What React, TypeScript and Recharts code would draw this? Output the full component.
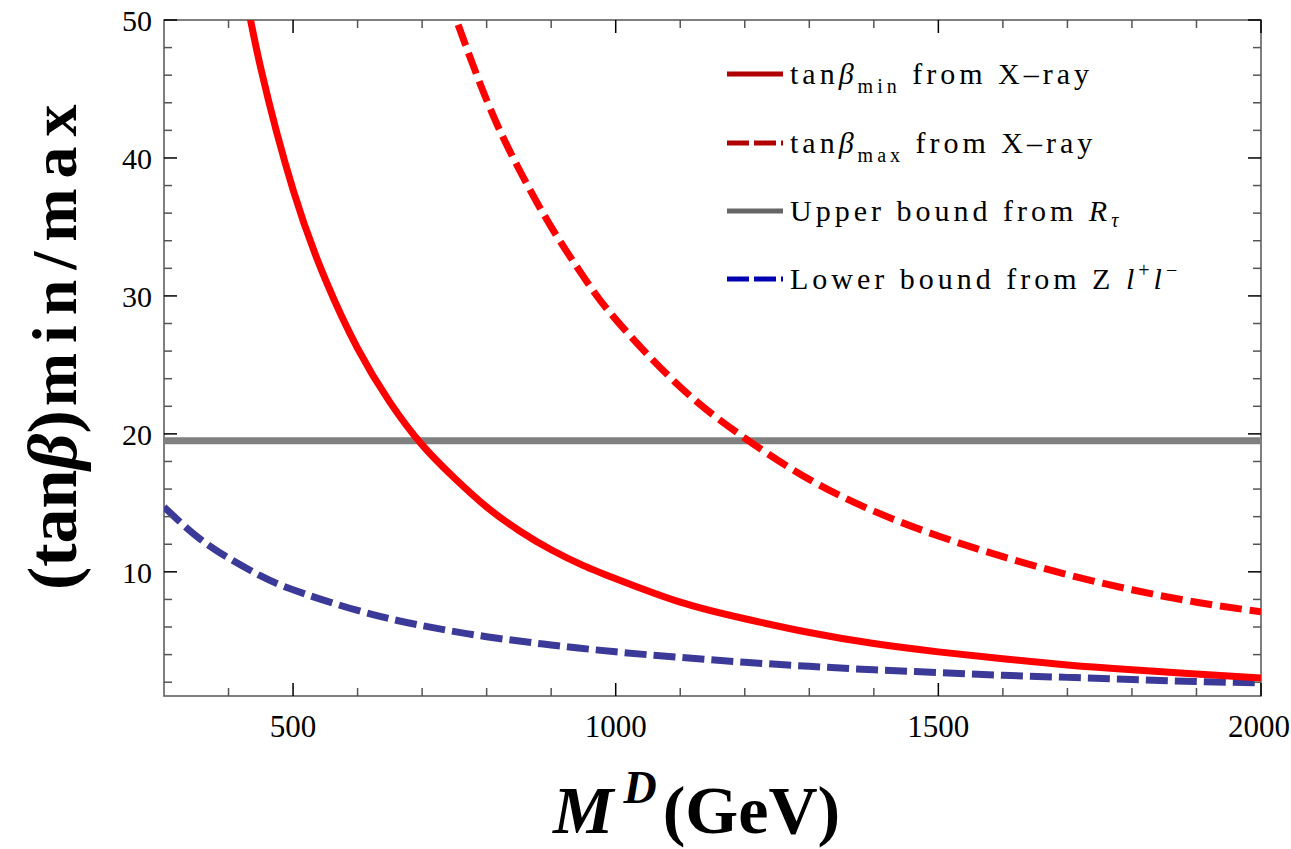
import React from "react";
import { LineChart, Line, XAxis, YAxis, ReferenceArea } from "recharts";

// tan(beta)_min from X-ray (solid red)
const tanMinData = [
  { x: 420, y: 53.5 }, { x: 450, y: 46.5 }, { x: 500, y: 37.7 }, { x: 550, y: 31.2 },
  { x: 600, y: 26.2 }, { x: 650, y: 22.3 }, { x: 700, y: 19.2 }, { x: 750, y: 16.8 },
  { x: 800, y: 14.7 }, { x: 850, y: 13.0 }, { x: 900, y: 11.6 }, { x: 950, y: 10.45 },
  { x: 1000, y: 9.5 }, { x: 1100, y: 7.8 }, { x: 1200, y: 6.6 }, { x: 1300, y: 5.6 },
  { x: 1400, y: 4.8 }, { x: 1500, y: 4.2 }, { x: 1600, y: 3.7 }, { x: 1700, y: 3.25 },
  { x: 1800, y: 2.9 }, { x: 1900, y: 2.6 }, { x: 2000, y: 2.3 },
];

// tan(beta)_max from X-ray (dashed red)
const tanMaxData = [
  { x: 740, y: 51.7 }, { x: 800, y: 44.2 }, { x: 850, y: 39.2 }, { x: 900, y: 35.0 },
  { x: 950, y: 31.4 }, { x: 1000, y: 28.3 }, { x: 1100, y: 23.4 }, { x: 1200, y: 19.7 },
  { x: 1300, y: 16.7 }, { x: 1400, y: 14.4 }, { x: 1500, y: 12.6 }, { x: 1600, y: 11.1 },
  { x: 1700, y: 9.8 }, { x: 1800, y: 8.7 }, { x: 1900, y: 7.8 }, { x: 2000, y: 7.1 },
];

// upper bound from R_tau (gray)
const upperData = [{ x: 300, y: 19.5 }, { x: 2000, y: 19.5 }];

// lower bound from Z l+ l- (dashed blue)
const lowerData = [
  { x: 300, y: 14.7 }, { x: 350, y: 12.6 }, { x: 400, y: 11.0 }, { x: 450, y: 9.7 },
  { x: 500, y: 8.7 }, { x: 600, y: 7.2 }, { x: 700, y: 6.1 }, { x: 800, y: 5.3 },
  { x: 900, y: 4.7 }, { x: 1000, y: 4.2 }, { x: 1100, y: 3.8 }, { x: 1200, y: 3.45 },
  { x: 1300, y: 3.15 }, { x: 1400, y: 2.9 }, { x: 1500, y: 2.7 }, { x: 1600, y: 2.5 },
  { x: 1700, y: 2.35 }, { x: 1800, y: 2.2 }, { x: 1900, y: 2.05 }, { x: 2000, y: 1.95 },
];

const xTicks = [400, 500, 600, 700, 800, 900, 1000, 1100, 1200, 1300, 1400, 1500, 1600, 1700, 1800, 1900, 2000];
const xLabels = [500, 1000, 1500, 2000];
const yTicks = [2, 4, 6, 8, 10, 12, 14, 16, 18, 20, 22, 24, 26, 28, 30, 32, 34, 36, 38, 40, 42, 44, 46, 48, 50];
const yLabels = [10, 20, 30, 40, 50];

const W = 1291;
const H = 849;
const PLOT_LEFT = 164;
const PLOT_TOP = 20;
const PLOT_W = 1097;
const PLOT_H = 676;
const FONT = "'Liberation Serif', 'Times New Roman', serif";

const XTick = (props: any) => {
  const { x, y, payload } = props;
  const major = xLabels.includes(payload.value);
  const len = major ? 13 : 8;
  const color = major ? "#000" : "#555";
  // the last label sits on the page edge, pull it in a touch
  const dx = payload.value === 2000 ? -2 : 0;
  return (
    <g>
      <line x1={x} y1={y} x2={x} y2={y - len} stroke={color} strokeWidth={1.5} />
      <line x1={x} y1={y - PLOT_H} x2={x} y2={y - PLOT_H + len} stroke={color} strokeWidth={1.5} />
      {major && (
        <text x={x + dx} y={y + 41} textAnchor="middle" fontFamily={FONT} fontSize={31} fill="#000">
          {payload.value}
        </text>
      )}
    </g>
  );
};

const YTick = (props: any) => {
  const { x, y, payload } = props;
  const major = yLabels.includes(payload.value);
  const len = major ? 13 : 8;
  const color = major ? "#000" : "#555";
  return (
    <g>
      <line x1={x} y1={y} x2={x + len} y2={y} stroke={color} strokeWidth={1.5} />
      <line x1={x + PLOT_W} y1={y} x2={x + PLOT_W - len} y2={y} stroke={color} strokeWidth={1.5} />
      {major && (
        <text x={x - 12} y={y + 11} textAnchor="end" fontFamily={FONT} fontSize={30} fill="#000">
          {payload.value}
        </text>
      )}
    </g>
  );
};

const legendRows = [
  { y: 74, color: "#B00000", dash: undefined },
  { y: 143, color: "#B00000", dash: "22 5" },
  { y: 211, color: "#666666", dash: undefined },
  { y: 279, color: "#0000B0", dash: "22 5" },
];

const Overlay = () => (
  <svg
    width={W}
    height={H}
    style={{ position: "absolute", left: 0, top: 0, pointerEvents: "none" }}
  >
    {legendRows.map((r, i) => (
      <line key={i} x1={727} x2={783} y1={r.y} y2={r.y} stroke={r.color} strokeWidth={5} strokeDasharray={r.dash} />
    ))}
    <g fontFamily={FONT} fontSize={30} fill="#000" letterSpacing={4}>
      <text x={790} y={84}>
        tan<tspan fontStyle="italic">β</tspan>
        <tspan fontSize={20} dy={9}>min</tspan>
        <tspan dy={-9}> from X–ray</tspan>
      </text>
      <text x={790} y={153}>
        tan<tspan fontStyle="italic">β</tspan>
        <tspan fontSize={20} dy={9}>max</tspan>
        <tspan dy={-9}> from X–ray</tspan>
      </text>
      <text x={790} y={221}>
        Upper bound from <tspan fontStyle="italic">R</tspan>
        <tspan fontStyle="italic" fontSize={20} dy={6}>τ</tspan>
      </text>
      <text x={790} y={289}>
        Lower bound from Z <tspan fontStyle="italic">l</tspan>
        <tspan fontSize={20} dy={-12}>+</tspan>
        <tspan fontStyle="italic" dy={12}>l</tspan>
        <tspan fontSize={20} dy={-12}>−</tspan>
      </text>
    </g>
    <text x={553} y={833} fontFamily={FONT} fontWeight="bold" fontSize={68} fill="#000">
      <tspan fontStyle="italic">M</tspan>
      <tspan fontStyle="italic" fontSize={46} dy={-30} dx={10}>D</tspan>
      <tspan dy={30} dx={6}>(GeV)</tspan>
    </text>
    <text
      transform="translate(76,590) rotate(-90)"
      fontFamily={FONT}
      fontWeight="bold"
      fontSize={70}
      fill="#000"
    >
      (tan<tspan fontStyle="italic">β</tspan>)
      <tspan fontSize={64} letterSpacing={10} dx={4}>min/max</tspan>
    </text>
  </svg>
);

export default function App() {
  return (
    <div style={{ position: "relative", width: W, height: H, overflow: "hidden", background: "#fff" }}>
      <style>{`body { margin: 0; }`}</style>
      <LineChart
        width={W}
        height={H}
        margin={{ top: PLOT_TOP, right: W - PLOT_LEFT - PLOT_W, left: PLOT_LEFT - 60, bottom: H - PLOT_TOP - PLOT_H - 60 }}
      >
        <XAxis
          dataKey="x"
          type="number"
          domain={[300, 2000]}
          allowDataOverflow
          ticks={xTicks}
          interval={0}
          tick={(p: any) => <XTick {...p} />}
          tickLine={false}
          axisLine={false}
          tickSize={0}
          tickMargin={0}
          height={60}
        />
        <YAxis
          dataKey="y"
          type="number"
          domain={[1, 50]}
          allowDataOverflow
          ticks={yTicks}
          interval={0}
          tick={(p: any) => <YTick {...p} />}
          tickLine={false}
          axisLine={false}
          tickSize={0}
          tickMargin={0}
          width={60}
        />
        <Line data={upperData} dataKey="y" type="linear" stroke="#808080" strokeWidth={7} dot={false} activeDot={false} isAnimationActive={false} />
        <Line data={lowerData} dataKey="y" type="natural" stroke="#3C3A98" strokeWidth={7} strokeDasharray="22 7" dot={false} activeDot={false} isAnimationActive={false} />
        <Line data={tanMaxData} dataKey="y" type="natural" stroke="#FF0000" strokeWidth={7} strokeDasharray="22 8" dot={false} activeDot={false} isAnimationActive={false} />
        <Line data={tanMinData} dataKey="y" type="natural" stroke="#FF0000" strokeWidth={7} dot={false} activeDot={false} isAnimationActive={false} />
        <ReferenceArea x1={300} x2={2000} y1={1} y2={50} fill="none" stroke="#555" strokeWidth={1.5} ifOverflow="visible" />
      </LineChart>
      <Overlay />
    </div>
  );
}
